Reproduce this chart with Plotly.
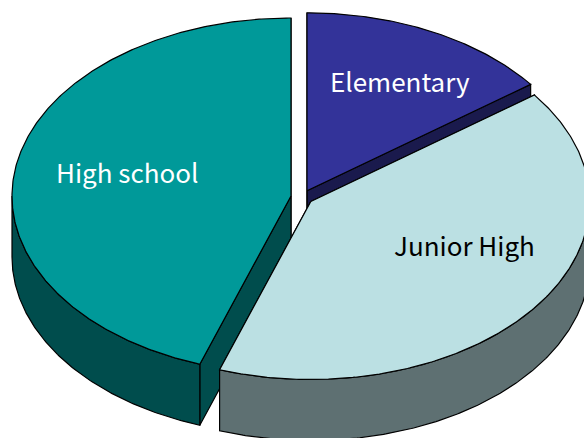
import numpy as np
import plotly.graph_objects as go

# School level shares, percent of the whole pie
categories = ["Elementary", "Junior High", "High school"]
shares = [14.8, 40.5, 44.7]

top_colors = ["#333399", "#BBE0E3", "#009999"]
side_colors = ["#1A1A4D", "#5E7072", "#004D4D"]
text_colors = ["white", "black", "white"]

# Pixel-space geometry of the tilted pie
RX, RY, DEPTH = 279.0, 178.0, 61.0
apexes = {"Elementary": (307.0, 190.8), "Junior High": (310.8, 201.5), "High school": (291.0, 196.0)}
label_pos = {"Elementary": (400, 80), "Junior High": (464, 244), "High school": (127, 171)}
LABEL_SIZE = 26
LABEL_FONT = "Noto Sans CJK JP"


def rim(apex, a0, a1, drop=0.0):
    """Points on the ellipse rim between two clockwise-from-top angles (degrees)."""
    t = np.radians(np.linspace(a0, a1, max(int(abs(a1 - a0)) * 2, 2)))
    return apex[0] + RX * np.sin(t), apex[1] - RY * np.cos(t) + drop


def polygon(fig, xs, ys, color):
    fig.add_trace(go.Scatter(
        x=xs, y=ys, mode="lines", fill="toself", fillcolor=color,
        line=dict(color="black", width=1.2), hoverinfo="skip", showlegend=False,
    ))


def wedge(fig, idx, a0, a1):
    apex = apexes[categories[idx]]
    side = side_colors[idx]

    # Cut faces running from the apex to each end of the arc
    for ang in (a1, a0):
        ex, ey = rim(apex, ang, ang)
        ex, ey = ex[0], ey[0]
        polygon(fig,
                [apex[0], ex, ex, apex[0], apex[0]],
                [apex[1], ey, ey + DEPTH, apex[1] + DEPTH, apex[1]], side)

    # Curved outer wall: only the part facing the viewer is visible
    lo, hi = max(a0, 90.0), min(a1, 270.0)
    if hi > lo:
        ux, uy = rim(apex, lo, hi)
        dx, dy = rim(apex, lo, hi, DEPTH)
        polygon(fig,
                np.concatenate([ux, dx[::-1], ux[:1]]),
                np.concatenate([uy, dy[::-1], uy[:1]]), side)

    # Top face
    tx, ty = rim(apex, a0, a1)
    polygon(fig,
            np.concatenate([[apex[0]], tx, [apex[0]]]),
            np.concatenate([[apex[1]], ty, [apex[1]]]), top_colors[idx])


fig = go.Figure()

# Sector boundaries, clockwise from twelve o'clock
edges = np.concatenate([[0.0], np.cumsum(shares) * 3.6])

# Back to front so the nearer wedges overlap the farther ones
for i in (2, 0, 1):
    wedge(fig, i, edges[i], edges[i + 1])

for name, colour in zip(categories, text_colors):
    fig.add_annotation(
        x=label_pos[name][0], y=label_pos[name][1], text=name, showarrow=False,
        font=dict(family=LABEL_FONT, size=LABEL_SIZE, color=colour),
    )

fig.update_layout(
    width=584, height=438, autosize=False,
    margin=dict(l=0, r=0, t=0, b=0),
    paper_bgcolor="white", plot_bgcolor="white",
    xaxis=dict(range=[0, 584], visible=False, fixedrange=True),
    yaxis=dict(range=[438, 0], visible=False, fixedrange=True),
)

fig.write_html("out.html", config={"displayModeBar": False})
